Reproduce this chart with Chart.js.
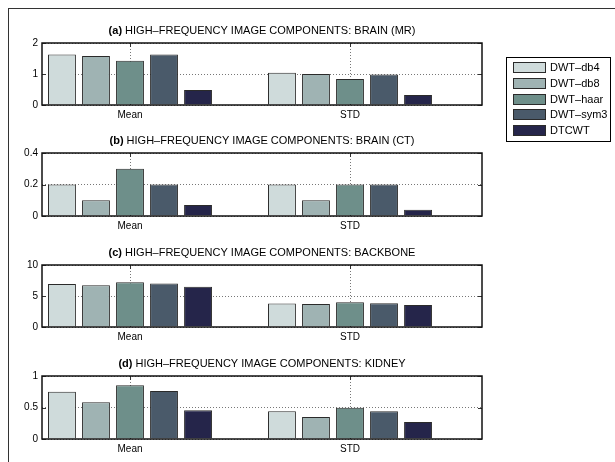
<!DOCTYPE html>
<html>
<head>
<meta charset="utf-8">
<script src="https://cdn.jsdelivr.net/npm/chart.js@4.4.0/dist/chart.umd.min.js"></script>
<style>
  body { margin: 0; background: #fff; }
  #wrap { position: relative; width: 615px; height: 462px; overflow: hidden; }
  #wrap canvas { position: absolute; left: 0; top: 0; }
  .frame { position: absolute; left: 8px; top: 8px; width: 700px; height: 600px; border-left: 1px solid #333; border-top: 1px solid #333; }
</style>
</head>
<body>
<div id="wrap">
  <div class="frame"></div>
  <canvas id="chart-a" width="615" height="462"></canvas>
  <canvas id="chart-b" width="615" height="462"></canvas>
  <canvas id="chart-c" width="615" height="462"></canvas>
  <canvas id="chart-d" width="615" height="462"></canvas>
</div>
<script>
const categories = ['Mean', 'STD'];
const methods = ['DWT–db4', 'DWT–db8', 'DWT–haar', 'DWT–sym3', 'DTCWT'];
const methodColors = ['#cfdbdb', '#9fb3b3', '#6e8f8a', '#4a5a6a', '#25254a'];

// one value per method, same order as methods
const brainMrMean = [1.63, 1.58, 1.43, 1.63, 0.48];
const brainMrStd = [1.04, 1.0, 0.84, 0.98, 0.32];
const brainCtMean = [0.2, 0.1, 0.3, 0.2, 0.07];
const brainCtStd = [0.2, 0.1, 0.2, 0.2, 0.04];
const backboneMean = [6.95, 6.75, 7.2, 7.0, 6.5];
const backboneStd = [3.8, 3.7, 4.0, 3.85, 3.55];
const kidneyMean = [0.75, 0.585, 0.855, 0.76, 0.455];
const kidneyStd = [0.44, 0.35, 0.495, 0.44, 0.27];

const yTicksMr = [0, 1, 2];
const yTicksCt = [0, 0.2, 0.4];
const yTicksBackbone = [0, 5, 10];
const yTicksKidney = [0, 0.5, 1];

const FONT = '"Liberation Sans", Arial, Helvetica, sans-serif';
const PLOT_LEFT = 42;
const PLOT_RIGHT = 482;
const Y_AXIS_W = 30;
const X_AXIS_H = 20;

const panels = [
    { id: 'chart-a', tag: '(a)', title: 'HIGH–FREQUENCY IMAGE COMPONENTS: BRAIN (MR)', mean: brainMrMean, std: brainMrStd, ticks: yTicksMr, top: 43, bottom: 105, legend: true },
    { id: 'chart-b', tag: '(b)', title: 'HIGH–FREQUENCY IMAGE COMPONENTS: BRAIN (CT)', mean: brainCtMean, std: brainCtStd, ticks: yTicksCt, top: 153, bottom: 216, legend: false },
    { id: 'chart-c', tag: '(c)', title: 'HIGH–FREQUENCY IMAGE COMPONENTS: BACKBONE', mean: backboneMean, std: backboneStd, ticks: yTicksBackbone, top: 265, bottom: 327, legend: false },
    { id: 'chart-d', tag: '(d)', title: 'HIGH–FREQUENCY IMAGE COMPONENTS: KIDNEY', mean: kidneyMean, std: kidneyStd, ticks: yTicksKidney, top: 376, bottom: 439, legend: false }
];

const panelTitle = {
    id: 'panelTitle',
    afterDraw(chart, args, opts) {
        const ctx = chart.ctx;
        const area = chart.chartArea;
        ctx.save();
        ctx.fillStyle = '#000';
        ctx.textBaseline = 'middle';
        ctx.textAlign = 'left';
        ctx.font = 'bold 11px ' + FONT;
        const tagW = ctx.measureText(opts.tag + ' ').width;
        ctx.font = '11px ' + FONT;
        const textW = ctx.measureText(opts.text).width;
        const x = (area.left + area.right) / 2 - (tagW + textW) / 2;
        const y = area.top - 12;
        ctx.font = 'bold 11px ' + FONT;
        ctx.fillText(opts.tag, x, y);
        ctx.font = '11px ' + FONT;
        ctx.fillText(opts.text, x + tagW, y);
        ctx.restore();
    }
};

const axisBox = {
    id: 'axisBox',
    beforeDatasetsDraw(chart) {
        // short inward ticks on all four sides
        const { ctx, chartArea: a, scales: { x, y } } = chart;
        ctx.save();
        ctx.strokeStyle = '#333';
        ctx.lineWidth = 1;
        ctx.beginPath();
        y.ticks.forEach(t => {
            const py = Math.round(y.getPixelForValue(t.value)) + 0.5;
            ctx.moveTo(a.left, py); ctx.lineTo(a.left + 4, py);
            ctx.moveTo(a.right, py); ctx.lineTo(a.right - 4, py);
        });
        x.ticks.forEach(t => {
            const px = Math.round(x.getPixelForValue(t.value)) + 0.5;
            ctx.moveTo(px, a.top); ctx.lineTo(px, a.top + 4);
            ctx.moveTo(px, a.bottom); ctx.lineTo(px, a.bottom - 4);
        });
        ctx.stroke();
        ctx.restore();
    },
    afterDatasetsDraw(chart) {
        const { ctx, chartArea: a } = chart;
        ctx.save();
        ctx.strokeStyle = '#111';
        ctx.lineWidth = 1.5;
        ctx.strokeRect(a.left, a.top, a.right - a.left, a.bottom - a.top);
        ctx.restore();
    }
};

const boxLegend = {
    id: 'boxLegend',
    afterDraw(chart, args, opts) {
        if (!opts.show) return;
        const ctx = chart.ctx;
        const sets = chart.data.datasets;
        const rowH = 15.85;
        const h = 84;
        const w = 104;
        ctx.save();
        ctx.fillStyle = '#fff';
        ctx.fillRect(opts.x, opts.y, w, h);
        ctx.strokeStyle = '#000';
        ctx.lineWidth = 1;
        ctx.strokeRect(opts.x + 0.5, opts.y + 0.5, w, h);
        ctx.font = '11px ' + FONT;
        ctx.textBaseline = 'middle';
        ctx.textAlign = 'left';
        sets.forEach((ds, i) => {
            const cy = opts.y + 10.3 + i * rowH;
            ctx.fillStyle = ds.backgroundColor;
            ctx.fillRect(opts.x + 7, Math.round(cy - 5.5), 33, 11);
            ctx.strokeStyle = '#2a2a2a';
            ctx.strokeRect(opts.x + 7.5, Math.round(cy - 5.5) + 0.5, 32, 10);
            ctx.fillStyle = '#000';
            ctx.fillText(ds.label, opts.x + 44, cy + 0.5);
        });
        ctx.restore();
    }
};

function makePanel(panel) {
    const datasets = methods.map((m, i) => ({
        label: m,
        data: [{ x: 1, y: panel.mean[i] }, { x: 2, y: panel.std[i] }],
        backgroundColor: methodColors[i],
        borderColor: '#2a2a2a',
        borderWidth: 1,
        categoryPercentage: 0.773,
        barPercentage: 0.82
    }));

    const gridStyle = { color: '#777', lineWidth: 1, drawTicks: false, offset: false };

    new Chart(document.getElementById(panel.id), {
        type: 'bar',
        data: { datasets: datasets },
        options: {
            responsive: false,
            animation: false,
            events: [],
            layout: {
                padding: {
                    left: PLOT_LEFT - Y_AXIS_W,
                    right: 615 - PLOT_RIGHT,
                    top: panel.top,
                    bottom: 462 - panel.bottom - X_AXIS_H
                }
            },
            scales: {
                x: {
                    type: 'linear',
                    min: 0.6,
                    max: 2.6,
                    offset: false,
                    afterBuildTicks: s => { s.ticks = categories.map((c, i) => ({ value: i + 1 })); },
                    afterFit: s => { s.height = X_AXIS_H; },
                    ticks: {
                        callback: (v, i) => categories[i],
                        font: { family: FONT, size: 10 },
                        color: '#000',
                        padding: 4,
                        maxRotation: 0,
                        autoSkip: false
                    },
                    grid: gridStyle,
                    border: { display: false, dash: [1, 2] }
                },
                y: {
                    min: panel.ticks[0],
                    max: panel.ticks[panel.ticks.length - 1],
                    afterBuildTicks: s => { s.ticks = panel.ticks.map(v => ({ value: v })); },
                    afterFit: s => { s.width = Y_AXIS_W; },
                    ticks: {
                        callback: v => String(v),
                        font: { family: FONT, size: 10 },
                        color: '#000',
                        padding: 4
                    },
                    grid: gridStyle,
                    border: { display: false, dash: [1, 2] }
                }
            },
            plugins: {
                legend: { display: false },
                tooltip: { enabled: false },
                panelTitle: { tag: panel.tag, text: panel.title },
                boxLegend: { show: panel.legend, x: 506, y: 57 }
            }
        },
        plugins: [axisBox, panelTitle, boxLegend]
    });
}

panels.forEach(makePanel);
</script>
</body>
</html>
